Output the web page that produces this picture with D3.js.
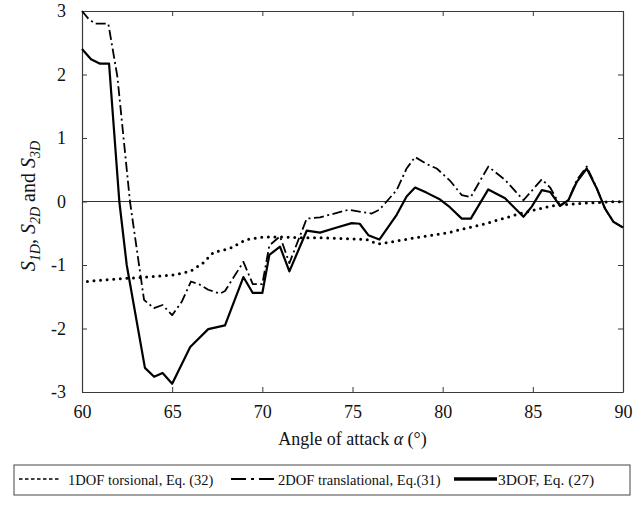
<!DOCTYPE html>
<html>
<head>
<meta charset="utf-8">
<script src="https://cdn.jsdelivr.net/npm/d3@7"></script>
<style>
  body { margin: 0; background: #fff; }
  text { font-family: "Liberation Serif", "DejaVu Serif", serif; fill: #111; }
</style>
</head>
<body>
<div id="chart-container"></div>
<script>
// 1DOF torsional, Eq. (32)
const torsAlpha = [60.3, 61, 62, 63, 64, 65, 66, 66.7, 67.3, 68.2, 69.1, 70, 71, 72, 73, 74, 75, 75.8, 76.4, 77.3, 78.7, 80.3, 82.1, 84.3, 86, 87.6, 89, 90];
const torsS = [-1.26, -1.24, -1.22, -1.20, -1.18, -1.16, -1.10, -0.97, -0.80, -0.74, -0.60, -0.56, -0.56, -0.57, -0.57, -0.58, -0.59, -0.60, -0.67, -0.63, -0.56, -0.49, -0.37, -0.19, -0.07, -0.03, -0.01, 0.0];

// 2DOF translational, Eq. (31)
const transAlpha = [60, 60.35, 60.72, 61.46, 61.96, 62.66, 63.44, 63.99, 64.47, 65, 65.53, 66.04, 66.54, 67, 67.65, 67.93, 68.95, 69.47, 70, 70.39, 70.98, 71.5, 72.46, 73.2, 74.77, 76.07, 76.49, 77.45, 78, 78.47, 79.11, 79.67, 80.4, 81.06, 81.56, 82.53, 83.46, 84.48, 85.5, 85.96, 86.51, 86.97, 87.44, 87.99, 88.54, 89, 89.47, 90];
const transS = [3.0, 2.88, 2.80, 2.80, 1.97, 0, -1.55, -1.68, -1.63, -1.79, -1.58, -1.26, -1.31, -1.39, -1.45, -1.41, -0.95, -1.30, -1.30, -0.69, -0.55, -0.97, -0.27, -0.25, -0.13, -0.19, -0.13, 0.18, 0.52, 0.70, 0.59, 0.52, 0.33, 0.10, 0.07, 0.55, 0.34, 0.02, 0.35, 0.22, -0.06, 0.02, 0.34, 0.55, 0.21, -0.11, -0.32, -0.41];

// 3DOF, Eq. (27)
const fullAlpha = [60, 60.5, 61, 61.5, 62.07, 62.48, 63.49, 64, 64.47, 65, 66, 67, 67.93, 68.95, 69.47, 70, 70.39, 70.98, 71.5, 72.46, 73.2, 74.13, 74.96, 75.4, 75.88, 76.49, 77.45, 78, 78.47, 79.1, 79.86, 80.4, 81.06, 81.56, 82.53, 83.46, 84.48, 84.94, 85.5, 85.96, 86.51, 86.97, 87.44, 87.99, 88.54, 89, 89.47, 90];
const fullS = [2.40, 2.24, 2.17, 2.17, 0, -1.0, -2.62, -2.76, -2.70, -2.87, -2.29, -2.01, -1.95, -1.19, -1.44, -1.44, -0.84, -0.71, -1.10, -0.46, -0.49, -0.41, -0.34, -0.35, -0.53, -0.60, -0.21, 0.08, 0.22, 0.14, 0.03, -0.09, -0.27, -0.27, 0.19, 0.05, -0.24, -0.08, 0.18, 0.15, -0.07, 0.02, 0.31, 0.52, 0.21, -0.11, -0.32, -0.41];

const xTicks = [60, 65, 70, 75, 80, 85, 90];
const yTicks = [-3, -2, -1, 0, 1, 2, 3];
const legendLabels = ['1DOF torsional, Eq. (32)', '2DOF translational, Eq.(31)', '3DOF, Eq. (27)'];

// Chart dimensions
const W = 633, H = 506;
const margin = { top: 11, right: 10, bottom: 114, left: 82 };
const width = W - margin.left - margin.right;
const height = H - margin.top - margin.bottom;

const root = d3.select('#chart-container')
    .append('svg')
    .attr('width', W)
    .attr('height', H);

const svg = root.append('g')
    .attr('transform', `translate(${margin.left},${margin.top})`);

const x = d3.scaleLinear().domain([60, 90]).range([0, width]);
const y = d3.scaleLinear().domain([-3, 3]).range([height, 0]);

// Axes with inward ticks
const frameColor = '#3a3a3a';
function styleAxis(g) {
    g.select('.domain').attr('stroke', frameColor).attr('stroke-width', 1.2);
    g.selectAll('.tick line').attr('stroke', frameColor).attr('stroke-width', 1);
    g.selectAll('.tick text').attr('font-size', 18).attr('fill', '#111')
        .style('font-family', '"Liberation Serif", serif');
}

svg.append('g')
    .attr('transform', `translate(0,${height})`)
    .call(d3.axisBottom(x).tickValues(xTicks).tickSize(-5).tickSizeOuter(0).tickPadding(13).tickFormat(d => String(d)))
    .call(styleAxis);

svg.append('g')
    .call(d3.axisTop(x).tickValues(xTicks).tickSize(-5).tickSizeOuter(0).tickFormat(''))
    .call(styleAxis);

svg.append('g')
    .call(d3.axisLeft(y).tickValues(yTicks).tickSize(-5).tickSizeOuter(0).tickPadding(16).tickFormat(d => String(d)))
    .call(styleAxis);

svg.append('g')
    .attr('transform', `translate(${width},0)`)
    .call(d3.axisRight(y).tickValues(yTicks).tickSize(-5).tickSizeOuter(0).tickFormat(''))
    .call(styleAxis);

// Zero reference line
svg.append('line')
    .attr('x1', 0).attr('x2', width)
    .attr('y1', y(0)).attr('y2', y(0))
    .attr('stroke', '#333').attr('stroke-width', 1);

// Series
const series = [
    { alpha: torsAlpha, s: torsS, width: 3, dash: '0,6.6', cap: 'round' },
    { alpha: transAlpha, s: transS, width: 1.8, dash: '10,3.5,2,3.5', cap: 'butt' },
    { alpha: fullAlpha, s: fullS, width: 2.2, dash: null, cap: 'butt' }
];

const line = d3.line()
    .x(d => x(d[0]))
    .y(d => y(d[1]));

series.forEach(sr => {
    svg.append('path')
        .datum(sr.alpha.map((a, i) => [a, sr.s[i]]))
        .attr('fill', 'none')
        .attr('stroke', '#000')
        .attr('stroke-width', sr.width)
        .attr('stroke-linecap', sr.cap)
        .attr('stroke-linejoin', 'round')
        .attr('stroke-dasharray', sr.dash)
        .attr('d', line);
});

// Axis titles
const xt = root.append('text')
    .attr('x', margin.left + width / 2)
    .attr('y', 445)
    .attr('text-anchor', 'middle')
    .attr('font-size', 18);
xt.append('tspan').text('Angle of attack ');
xt.append('tspan').attr('font-style', 'italic').text('α');
xt.append('tspan').text(' (°)');

const yt = root.append('text')
    .attr('transform', 'translate(35,206) rotate(-90)')
    .attr('text-anchor', 'middle')
    .attr('font-size', 20);
[['1D', ', '], ['2D', ' and '], ['3D', '']].forEach(([sub, after]) => {
    yt.append('tspan').attr('font-style', 'italic').text('S');
    yt.append('tspan').attr('font-style', 'italic').attr('font-size', 14).attr('dy', 5).text(sub);
    yt.append('tspan').attr('dy', -5).text(after);
});

// Legend
const legend = root.append('g');
legend.append('rect')
    .attr('x', 14).attr('y', 465)
    .attr('width', 616).attr('height', 30)
    .attr('fill', 'none')
    .attr('stroke', '#444')
    .attr('stroke-width', 1);

const legendItems = [
    { x0: 19, x1: 59, tx: 68, size: 14.5, width: 1.3, dash: '3.5,2.5' },
    { x0: 231, x1: 276, tx: 278, size: 14.5, width: 1.8, dash: '15,5,3,5' },
    { x0: 454, x1: 497, tx: 498, size: 15.5, width: 3.5, dash: null }
];
legendItems.forEach((it, i) => {
    legend.append('line')
        .attr('x1', it.x0).attr('x2', it.x1)
        .attr('y1', 479).attr('y2', 479)
        .attr('stroke', '#000')
        .attr('stroke-width', it.width)
        .attr('stroke-dasharray', it.dash);
    legend.append('text')
        .attr('x', it.tx).attr('y', 485)
        .attr('font-size', it.size)
        .text(legendLabels[i]);
});
</script>
</body>
</html>
